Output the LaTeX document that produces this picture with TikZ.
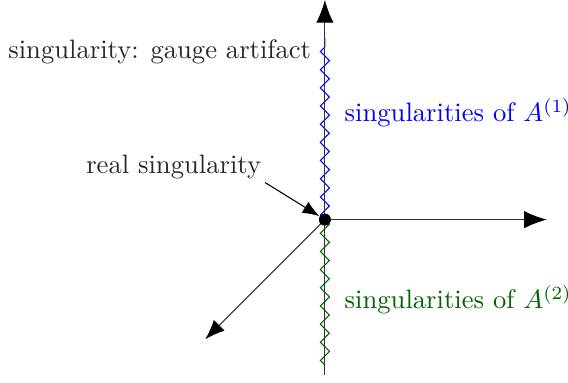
\documentclass[tikz,border=0pt]{standalone}
\usepackage{amsmath,amssymb}
\usepackage{tikz}
\usetikzlibrary{arrows.meta,decorations.pathmorphing}
\definecolor{tgrey}{RGB}{40,40,40}
\definecolor{sgreen}{RGB}{0,100,0}
\tikzset{
  ax/.style={draw=black!80,-{Latex[length=3mm,width=2.3mm,color=black]}},
  zz/.style={decorate,decoration={zigzag,segment length=2.4mm,amplitude=0.6mm}},
  lbl/.style={text=tgrey,inner sep=1pt},
}

\begin{document}
\begin{tikzpicture}
\useasboundingbox (-4.29,-2.15) rectangle (3.21,2.90);
\coordinate (o) at (0,0);
\coordinate (ytop) at (0,2.90);
\coordinate (ybot) at (0,-2.05);
\coordinate (xend) at (2.93,0);
\coordinate (dend) at (-1.58,-1.58);
\coordinate (ztop) at (0,2.40);
\coordinate (zbot) at (0,-1.92);
\draw[zz,blue] (o) -- (ztop);
\draw[zz,sgreen] (o) -- (zbot);
\draw[ax] (ybot) -- (ytop);
\draw[ax] (o) -- (xend);
\draw[ax,-{Latex[length=2.6mm,width=2mm,color=black]}] (o) -- (dend);
\node[circle,fill=black,inner sep=0pt,minimum size=1.6mm] (dot) at (o) {};
\node[lbl,anchor=east] (gauge) at (-0.14,2.22) {singularity: gauge artifact};
\node[lbl,anchor=west,text=blue] (sa) at (0.22,1.41) {singularities of $A^{(1)}$};
\node[lbl,anchor=west,text=sgreen] (sb) at (0.22,-1.06) {singularities of $A^{(2)}$};
\node[lbl,anchor=east] (real) at (-0.80,0.69) {real singularity};
\coordinate (rs) at (-0.79,0.49);
\draw[black,-{Latex[length=2.2mm,width=1.7mm]}] (rs) -- (dot);
\end{tikzpicture}
\end{document}
